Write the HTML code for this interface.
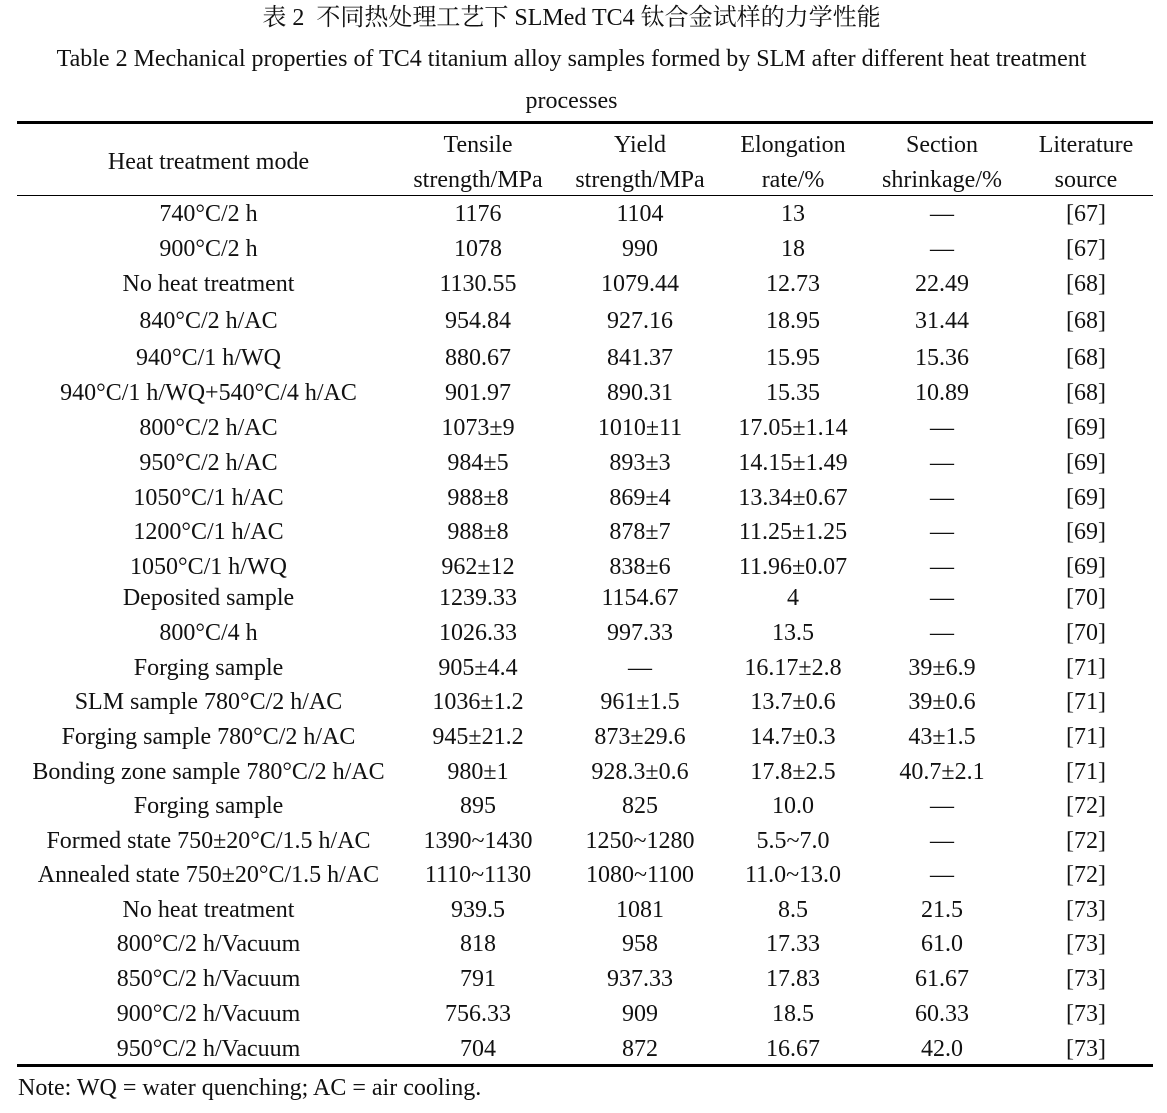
<!DOCTYPE html>
<html><head><meta charset="utf-8"><style>
body{margin:0;width:1167px;height:1113px;background:#fff;position:relative;overflow:hidden;font-family:"Liberation Serif","Noto Serif CJK SC",serif;color:#111;font-size:24px}
.t{position:absolute;left:0;width:1167px;text-align:center;line-height:30px}
.r{position:absolute;left:17px;height:30px;line-height:30px;display:flex;white-space:nowrap}
.r span{display:block;text-align:center}
.c1{width:383px}.c2{width:156px}.c3{width:168px}.c4{width:138px}.c5{width:160px}.c6{width:128px}
.rule{position:absolute;left:17px;width:1136px;background:#000}
</style></head><body>
<div class="t" style="top:3px;left:-12px">表 2&nbsp; 不同热处理工艺下 SLMed TC4 钛合金试样的力学性能</div>
<div class="t" style="top:44px;left:-12px">Table 2 Mechanical properties of TC4 titanium alloy samples formed by SLM after different heat treatment</div>
<div class="t" style="top:86px;left:-12px">processes</div>
<div class="rule" style="top:121px;height:3px"></div>
<div class="r" style="top:147px"><span class="c1">Heat treatment mode</span></div>
<div class="r" style="top:130px"><span class="c1"></span><span class="c2">Tensile</span><span class="c3">Yield</span><span class="c4">Elongation</span><span class="c5">Section</span><span class="c6">Literature</span></div>
<div class="r" style="top:165px"><span class="c1"></span><span class="c2">strength/MPa</span><span class="c3">strength/MPa</span><span class="c4">rate/%</span><span class="c5">shrinkage/%</span><span class="c6">source</span></div>
<div class="rule" style="top:195px;height:1px"></div>
<div class="r" style="top:199px"><span class="c1">740°C/2 h</span><span class="c2">1176</span><span class="c3">1104</span><span class="c4">13</span><span class="c5">—</span><span class="c6">[67]</span></div>
<div class="r" style="top:234px"><span class="c1">900°C/2 h</span><span class="c2">1078</span><span class="c3">990</span><span class="c4">18</span><span class="c5">—</span><span class="c6">[67]</span></div>
<div class="r" style="top:269px"><span class="c1">No heat treatment</span><span class="c2">1130.55</span><span class="c3">1079.44</span><span class="c4">12.73</span><span class="c5">22.49</span><span class="c6">[68]</span></div>
<div class="r" style="top:306px"><span class="c1">840°C/2 h/AC</span><span class="c2">954.84</span><span class="c3">927.16</span><span class="c4">18.95</span><span class="c5">31.44</span><span class="c6">[68]</span></div>
<div class="r" style="top:343px"><span class="c1">940°C/1 h/WQ</span><span class="c2">880.67</span><span class="c3">841.37</span><span class="c4">15.95</span><span class="c5">15.36</span><span class="c6">[68]</span></div>
<div class="r" style="top:378px"><span class="c1">940°C/1 h/WQ+540°C/4 h/AC</span><span class="c2">901.97</span><span class="c3">890.31</span><span class="c4">15.35</span><span class="c5">10.89</span><span class="c6">[68]</span></div>
<div class="r" style="top:413px"><span class="c1">800°C/2 h/AC</span><span class="c2">1073±9</span><span class="c3">1010±11</span><span class="c4">17.05±1.14</span><span class="c5">—</span><span class="c6">[69]</span></div>
<div class="r" style="top:448px"><span class="c1">950°C/2 h/AC</span><span class="c2">984±5</span><span class="c3">893±3</span><span class="c4">14.15±1.49</span><span class="c5">—</span><span class="c6">[69]</span></div>
<div class="r" style="top:483px"><span class="c1">1050°C/1 h/AC</span><span class="c2">988±8</span><span class="c3">869±4</span><span class="c4">13.34±0.67</span><span class="c5">—</span><span class="c6">[69]</span></div>
<div class="r" style="top:517px"><span class="c1">1200°C/1 h/AC</span><span class="c2">988±8</span><span class="c3">878±7</span><span class="c4">11.25±1.25</span><span class="c5">—</span><span class="c6">[69]</span></div>
<div class="r" style="top:552px"><span class="c1">1050°C/1 h/WQ</span><span class="c2">962±12</span><span class="c3">838±6</span><span class="c4">11.96±0.07</span><span class="c5">—</span><span class="c6">[69]</span></div>
<div class="r" style="top:583px"><span class="c1">Deposited sample</span><span class="c2">1239.33</span><span class="c3">1154.67</span><span class="c4">4</span><span class="c5">—</span><span class="c6">[70]</span></div>
<div class="r" style="top:618px"><span class="c1">800°C/4 h</span><span class="c2">1026.33</span><span class="c3">997.33</span><span class="c4">13.5</span><span class="c5">—</span><span class="c6">[70]</span></div>
<div class="r" style="top:653px"><span class="c1">Forging sample</span><span class="c2">905±4.4</span><span class="c3">—</span><span class="c4">16.17±2.8</span><span class="c5">39±6.9</span><span class="c6">[71]</span></div>
<div class="r" style="top:687px"><span class="c1">SLM sample 780°C/2 h/AC</span><span class="c2">1036±1.2</span><span class="c3">961±1.5</span><span class="c4">13.7±0.6</span><span class="c5">39±0.6</span><span class="c6">[71]</span></div>
<div class="r" style="top:722px"><span class="c1">Forging sample 780°C/2 h/AC</span><span class="c2">945±21.2</span><span class="c3">873±29.6</span><span class="c4">14.7±0.3</span><span class="c5">43±1.5</span><span class="c6">[71]</span></div>
<div class="r" style="top:757px"><span class="c1">Bonding zone sample 780°C/2 h/AC</span><span class="c2">980±1</span><span class="c3">928.3±0.6</span><span class="c4">17.8±2.5</span><span class="c5">40.7±2.1</span><span class="c6">[71]</span></div>
<div class="r" style="top:791px"><span class="c1">Forging sample</span><span class="c2">895</span><span class="c3">825</span><span class="c4">10.0</span><span class="c5">—</span><span class="c6">[72]</span></div>
<div class="r" style="top:826px"><span class="c1">Formed state 750±20°C/1.5 h/AC</span><span class="c2">1390~1430</span><span class="c3">1250~1280</span><span class="c4">5.5~7.0</span><span class="c5">—</span><span class="c6">[72]</span></div>
<div class="r" style="top:860px"><span class="c1">Annealed state 750±20°C/1.5 h/AC</span><span class="c2">1110~1130</span><span class="c3">1080~1100</span><span class="c4">11.0~13.0</span><span class="c5">—</span><span class="c6">[72]</span></div>
<div class="r" style="top:895px"><span class="c1">No heat treatment</span><span class="c2">939.5</span><span class="c3">1081</span><span class="c4">8.5</span><span class="c5">21.5</span><span class="c6">[73]</span></div>
<div class="r" style="top:929px"><span class="c1">800°C/2 h/Vacuum</span><span class="c2">818</span><span class="c3">958</span><span class="c4">17.33</span><span class="c5">61.0</span><span class="c6">[73]</span></div>
<div class="r" style="top:964px"><span class="c1">850°C/2 h/Vacuum</span><span class="c2">791</span><span class="c3">937.33</span><span class="c4">17.83</span><span class="c5">61.67</span><span class="c6">[73]</span></div>
<div class="r" style="top:999px"><span class="c1">900°C/2 h/Vacuum</span><span class="c2">756.33</span><span class="c3">909</span><span class="c4">18.5</span><span class="c5">60.33</span><span class="c6">[73]</span></div>
<div class="r" style="top:1034px"><span class="c1">950°C/2 h/Vacuum</span><span class="c2">704</span><span class="c3">872</span><span class="c4">16.67</span><span class="c5">42.0</span><span class="c6">[73]</span></div>
<div class="rule" style="top:1064px;height:3px"></div>
<div style="position:absolute;left:18px;top:1073px;line-height:30px">Note: WQ = water quenching; AC = air cooling.</div>
</body></html>
